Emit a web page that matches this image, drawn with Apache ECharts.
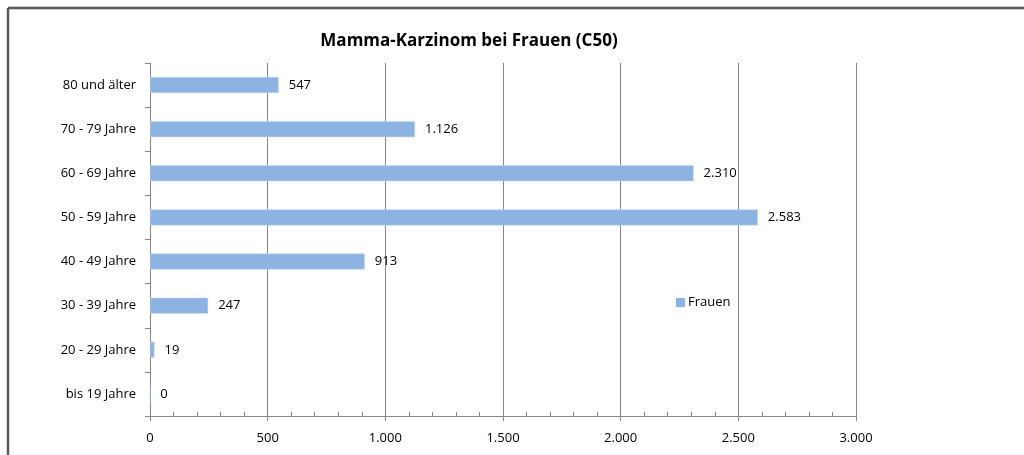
<!DOCTYPE html>
<html><head><meta charset="utf-8">
<script src="https://cdn.jsdelivr.net/npm/echarts@6/dist/echarts.min.js"></script>
<style>html,body{margin:0;padding:0;background:#fff}#c{width:1024px;height:455px}</style>
</head><body><div id="c"></div>
<script>
const categories = ['bis 19 Jahre','20 - 29 Jahre','30 - 39 Jahre','40 - 49 Jahre','50 - 59 Jahre','60 - 69 Jahre','70 - 79 Jahre','80 und älter'];
const frauen = [0, 19, 247, 913, 2583, 2310, 1126, 547];
const seriesName = 'Frauen';
const titleText = 'Mamma-Karzinom bei Frauen (C50)';

const fmt = v => String(v).replace(/\B(?=(\d{3})+(?!\d))/g, '.');
const font = '"Open Sans", "Liberation Sans", sans-serif';
const chart = echarts.init(document.getElementById('c'));
chart.setOption({
  animation: false,
  textStyle: { fontFamily: font },
  title: { text: titleText, left: 464, textAlign: 'center', top: 28,
    textStyle: { fontSize: 17, fontWeight: 'bold', color: '#000', fontFamily: font } },
  legend: { data: [seriesName], left: 671, top: 291, itemWidth: 9, itemHeight: 9, itemGap: 4,
    itemStyle: { borderWidth: 0 },
    textStyle: { fontSize: 13, color: '#000', padding: [0,0,0,-2] }, icon: 'rect' },
  grid: { left: 150, right: 168, top: 63, bottom: 39, containLabel: false },
  xAxis: [{
    type: 'value', min: 0, max: 3000, interval: 500,
    axisLine: { show: true, lineStyle: { color: '#888', width: 1 } },
    axisTick: { show: true, length: 5, lineStyle: { color: '#888' } },
    splitLine: { show: true, lineStyle: { color: '#888', width: 1 } },
    axisLabel: { fontSize: 13, color: '#000', margin: 16, formatter: fmt }
  }, {
    type: 'value', min: 0, max: 3000, interval: 500, position: 'bottom',
    axisLine: { show: false }, axisLabel: { show: false }, splitLine: { show: false },
    axisTick: { show: false, inside: true },
    minorTick: { show: true, splitNumber: 5, length: 4, lineStyle: { color: '#888' } }
  }],
  yAxis: {
    type: 'category', data: categories,
    axisLine: { show: true, lineStyle: { color: '#888' } },
    axisTick: { show: true, length: 5, lineStyle: { color: '#888' } },
    axisLabel: { fontSize: 13, color: '#000', margin: 14, padding: [3,0,0,0] }
  },
  series: [{
    name: seriesName, type: 'bar', data: frauen, barWidth: 16, xAxisIndex: 0,
    itemStyle: { color: '#8db3e2', borderColor: '#c6d9f1', borderWidth: 0.5 },
    label: { show: true, position: 'right', distance: 10, fontSize: 13, color: '#000', padding: [3,0,0,0], formatter: p => fmt(p.value) }
  }],
  graphic: [
    { type: 'line', shape: { x1: 8, y1: 8, x2: 1024, y2: 8 }, style: { stroke: '#5a5a5a', lineWidth: 2.5 } },
    { type: 'line', shape: { x1: 8, y1: 8, x2: 8, y2: 455 }, style: { stroke: '#5a5a5a', lineWidth: 2.5 } }
  ]
});
</script></body></html>
